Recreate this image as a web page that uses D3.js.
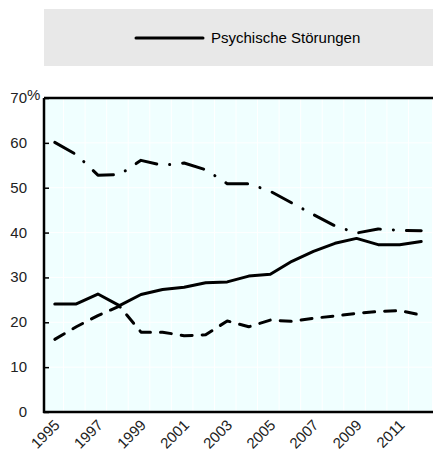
<!DOCTYPE html>
<html>
<head>
<meta charset="utf-8">
<script src="https://cdn.jsdelivr.net/npm/d3@7"></script>
<style>
  body { margin: 0; background: #fff; }
  svg { display: block; font-family: "Liberation Sans", Arial, sans-serif; }
</style>
</head>
<body>
<div id="viz"></div>
<script>
const years = d3.range(1995, 2013);
const yTicks = [0, 10, 20, 30, 40, 50, 60, 70];
const xTickYears = [1995, 1997, 1999, 2001, 2003, 2005, 2007, 2009, 2011];
const legendLabel = 'Psychische Störungen';

// solid line (Psychische Störungen)
const psychisch = [24.1, 24.1, 26.3, 23.7, 26.2, 27.3, 27.8, 28.8, 29.0, 30.3, 30.7, 33.6, 35.8, 37.6, 38.7, 37.3, 37.3, 38.0];
// dashed line
const dashed = [16.2, 19.0, 21.5, 23.6, 17.8, 17.8, 17.0, 17.2, 20.3, 19.0, 20.5, 20.2, 20.9, 21.4, 22.0, 22.4, 22.6, 21.6];
// dash-dot line
const dashDot = [60.1, 57.4, 52.8, 52.9, 56.1, 55.0, 55.5, 54.0, 50.9, 50.9, 49.2, 46.6, 44.0, 41.5, 39.9, 40.8, 40.5, 40.4];

const width = 433;
const height = 451;
const margin = { top: 98, right: 1, bottom: 39, left: 44 };

const svg = d3.select('#viz')
  .append('svg')
  .attr('width', width)
  .attr('height', height);

// legend box
svg.append('rect')
  .attr('x', 44).attr('y', 9)
  .attr('width', 389).attr('height', 57)
  .attr('fill', '#e8e8e8');

svg.append('line')
  .attr('x1', 136).attr('x2', 203)
  .attr('y1', 38).attr('y2', 38)
  .attr('stroke', '#000')
  .attr('stroke-width', 3)
  .attr('stroke-linecap', 'round');

svg.append('text')
  .attr('x', 211).attr('y', 43)
  .attr('font-size', 15)
  .attr('fill', '#000')
  .text(legendLabel);

const x = d3.scalePoint()
  .domain(years)
  .range([margin.left, width - margin.right])
  .padding(0.5);

const y = d3.scaleLinear()
  .domain([0, 70])
  .range([height - margin.bottom, margin.top]);

const step = x.step();

// plot background
svg.append('rect')
  .attr('x', margin.left).attr('y', margin.top)
  .attr('width', width - margin.right - margin.left)
  .attr('height', y(0) - margin.top)
  .attr('fill', '#f0ffff');

// faint white grid
svg.append('g')
  .selectAll('line')
  .data(years.slice(1))
  .enter()
  .append('line')
  .attr('x1', d => x(d) - step / 2 - 2)
  .attr('x2', d => x(d) - step / 2 - 2)
  .attr('y1', margin.top)
  .attr('y2', y(0))
  .attr('stroke', '#fff')
  .attr('stroke-width', 1);

svg.append('g')
  .selectAll('line')
  .data(yTicks.slice(1, -1))
  .enter()
  .append('line')
  .attr('x1', margin.left)
  .attr('x2', width - margin.right)
  .attr('y1', d => y(d))
  .attr('y2', d => y(d))
  .attr('stroke', '#fff')
  .attr('stroke-width', 1);

// y axis
const yAxis = svg.append('g')
  .attr('transform', `translate(${margin.left},0)`)
  .call(d3.axisRight(y).tickValues(yTicks).tickSize(5).tickFormat(''));
yAxis.select('.domain').remove();
yAxis.selectAll('.tick line').attr('stroke', '#000').attr('stroke-width', 1.5);

svg.append('g')
  .selectAll('text')
  .data(yTicks)
  .enter()
  .append('text')
  .attr('x', 27)
  .attr('y', d => y(d) + 5)
  .attr('text-anchor', 'end')
  .attr('font-size', 15)
  .attr('fill', '#222')
  .text(d => d);

svg.append('text')
  .attr('x', 27)
  .attr('y', y(70) + 2)
  .attr('font-size', 15)
  .attr('fill', '#222')
  .text('%');

// frame lines
svg.append('line')
  .attr('x1', margin.left).attr('x2', margin.left)
  .attr('y1', margin.top).attr('y2', y(0) + 1)
  .attr('stroke', '#000').attr('stroke-width', 2.5);
svg.append('line')
  .attr('x1', margin.left).attr('x2', width)
  .attr('y1', margin.top).attr('y2', margin.top)
  .attr('stroke', '#000').attr('stroke-width', 2.5);
svg.append('line')
  .attr('x1', margin.left - 1).attr('x2', width)
  .attr('y1', y(0)).attr('y2', y(0))
  .attr('stroke', '#000').attr('stroke-width', 2.5);

// x labels
svg.append('g')
  .selectAll('text')
  .data(xTickYears)
  .enter()
  .append('text')
  .attr('transform', d => `translate(${x(d) + 6},${y(0) + 14}) rotate(-45)`)
  .attr('text-anchor', 'end')
  .attr('font-size', 15)
  .attr('fill', '#222')
  .text(d => d);

// lines
const line = d3.line()
  .x((d, i) => x(years[i]))
  .y(d => y(d));

const series = [
  { values: dashDot, dash: '22,13,0.1,13' },
  { values: dashed, dash: '11,10' },
  { values: psychisch, dash: null }
];

svg.append('g')
  .selectAll('path')
  .data(series)
  .enter()
  .append('path')
  .attr('d', d => line(d.values))
  .attr('fill', 'none')
  .attr('stroke', '#000')
  .attr('stroke-width', 3)
  .attr('stroke-linecap', 'round')
  .attr('stroke-linejoin', 'round')
  .attr('stroke-dasharray', d => d.dash);
</script>
</body>
</html>
